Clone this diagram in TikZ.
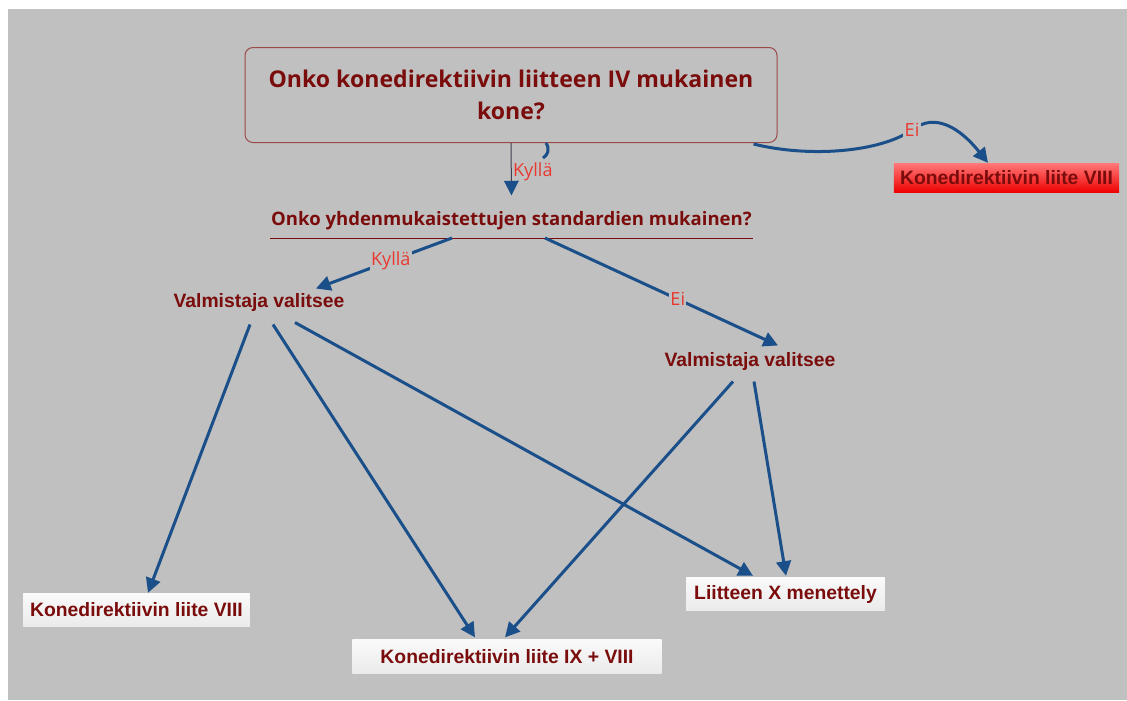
\documentclass[tikz,border=0pt]{standalone}
\usepackage{fontspec}
\newfontfamily\qfont{Open Sans}
\newfontfamily\afont{Liberation Sans}
\usetikzlibrary{arrows.meta}
\definecolor{bggray}{RGB}{192,192,192}
\definecolor{darkred}{RGB}{122,12,12}
\definecolor{labelred}{RGB}{232,56,47}
\definecolor{arrowblue}{RGB}{27,79,138}
\definecolor{thinline}{RGB}{60,64,80}

\tikzset{every picture/.style={line width=0.75pt}}
\tikzset{
  conn/.style={draw=arrowblue, line width=2.25pt, -{Triangle[length=11pt,width=11pt]}},
  lbl/.style={text=labelred, font=\qfont\fontsize{13.6}{15}\selectfont, inner sep=1pt, fill=bggray},
  qbox/.style={draw=darkred!75, rounded corners=6pt, text=darkred, align=center,
    font=\qfont\bfseries\fontsize{17.3}{24.5}\selectfont, minimum width=399pt, minimum height=71.25pt},
  qtext/.style={text=darkred, font=\qfont\bfseries\fontsize{13.9}{16}\selectfont, minimum width=362pt, inner xsep=0pt, inner ysep=6pt},
  vbox/.style={text=darkred, font=\afont\bfseries\fontsize{14.5}{17}\selectfont, inner sep=0pt},
  endbox/.style={vbox, top color=white!96!gray, bottom color=white!84!gray, minimum height=25pt},
  redbox/.style={vbox, top color={rgb,255:red,255;green,120;blue,120}, bottom color={rgb,255:red,238;green,0;blue,0}, minimum height=22pt, minimum width=169pt}
}

\begin{document}
\begin{tikzpicture}[x=0.75pt,y=0.75pt,yscale=-1,xscale=1]
%uncomment if require: \path (0,700); %set diagram left start at 0, and has height of 700

%Shape: Rectangle [background]
\fill[white] (0,0) rectangle (1127,700);
\fill[bggray] (8,9) rectangle (1127,700);

% Text Node
\node[qbox] (q1) at (511,95) {Onko konedirektiivin liitteen IV mukainen\\kone?};
% Text Node
\node[qtext, anchor=south] (q2) at (511.5,238) {Onko yhdenmukaistettujen standardien mukainen?};
\draw[darkred] (q2.south west) -- (q2.south east);
% Text Node
\node[redbox] (l8r) at (1006.5,178) {Konedirektiivin liite VIII};
% Text Node
\node[vbox] (vv) at (259,302) {Valmistaja valitsee};
% Text Node
\node[vbox] (vo) at (750,361) {Valmistaja valitsee};
% Text Node
\node[endbox, minimum width=170pt] (l8) at (136.5,610) {Konedirektiivin liite VIII};
% Text Node
\node[endbox, minimum width=232pt] (l98) at (507,656.5) {Konedirektiivin liite IX + VIII};
% Text Node
\node[endbox, minimum width=149pt] (lx) at (785.5,594) {Liitteen X menettely};

%Shape: Arrows
\draw[thinline, -{Triangle[length=11pt,width=11pt,color=arrowblue]}] (q1.south) -- ([shift={(0,-7)}]q2.north) node[lbl, pos=0.55, anchor=west, fill=none] {Kyllä};
\draw[conn] ([shift={(-24,1)}]q1.south east) .. controls (810,158) and (880,152) .. (912,130) node[lbl] {Ei} .. controls (935,112) and (960,128) .. ([shift={(-18.5,0)}]l8r.north);
\draw[conn] ([shift={(-59.5,0)}]q2.south) -- ([shift={(57,-4)}]vv.north) node[lbl, pos=0.45] {Kyllä};
\draw[conn] ([shift={(33.5,0)}]q2.south) -- ([shift={(28,-6)}]vo.north) node[lbl, pos=0.57] {Ei};
\draw[conn] ([shift={(-9,13)}]vv.south) -- ([shift={(11.5,0)}]l8.north);
\draw[conn] ([shift={(14,13)}]vv.south) -- ([shift={(-32,-2)}]l98.north);
\draw[conn] ([shift={(36,11)}]vv.south) -- ([shift={(-32.5,-1)}]lx.north);
\draw[conn] ([shift={(-17,11)}]vo.south) -- ([shift={(-2,-2)}]l98.north);
\draw[conn] ([shift={(4,11)}]vo.south) -- ([shift={(0.5,-1)}]lx.north);

%Shape: Free Drawing
\draw[arrowblue, line width=2.25pt] (546,143) .. controls (550,149) and (548,155) .. (543,158);
\end{tikzpicture}
\end{document}
